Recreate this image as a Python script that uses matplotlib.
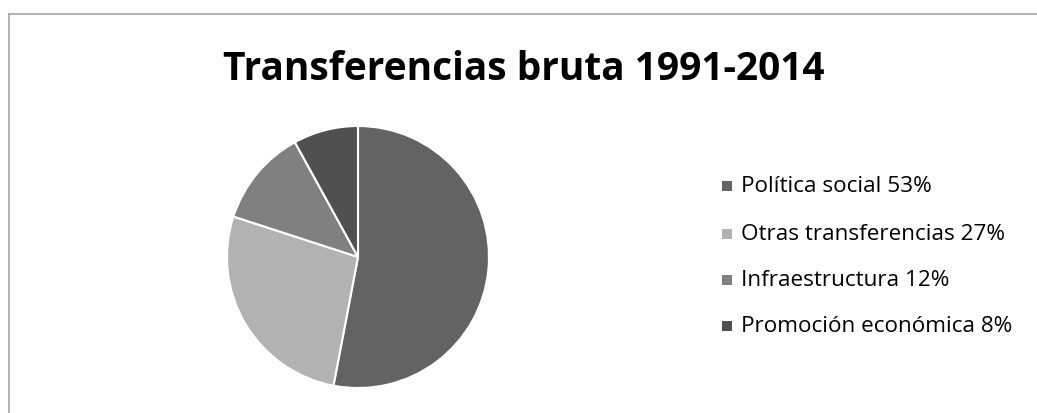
import matplotlib
matplotlib.use("Agg")
import matplotlib.pyplot as plt
from matplotlib.lines import Line2D
from matplotlib.patches import Rectangle

labels = ["Política social 53%", "Otras transferencias 27%", "Infraestructura 12%", "Promoción económica 8%"]
values = [53, 27, 12, 8]
colors = ["#636363", "#b2b2b2", "#808080", "#505050"]

W, H = 1037, 413
fig = plt.figure(figsize=(W / 100, H / 100), dpi=100)
fig.patch.set_facecolor("white")

# chart border (top and left)
fig.add_artist(Line2D([9 / W, 1], [1 - 14 / H, 1 - 14 / H], color="#a6a6a6", lw=1.2, transform=fig.transFigure))
fig.add_artist(Line2D([9 / W, 9 / W], [0, 1 - 14 / H], color="#a6a6a6", lw=1.2, transform=fig.transFigure))

fig.text(524 / W, 1 - 70 / H, "Transferencias bruta 1991-2014", ha="center", va="center",
         fontsize=28, fontweight="bold", family="Open Sans")

cx, cy, r = 358, 257, 131
ax = fig.add_axes([(cx - r) / W, 1 - (cy + r) / H, 2 * r / W, 2 * r / H])
ax.pie(values, colors=colors, startangle=90, counterclock=False,
       wedgeprops=dict(edgecolor="white", linewidth=1.5), radius=1)
ax.set_xlim(-1, 1)
ax.set_ylim(-1, 1)
ax.set_aspect("equal")
ax.axis("off")

ys = [186, 234, 280, 326]
sq = 10
for lab, col, y in zip(labels, colors, ys):
    fig.add_artist(Rectangle((722 / W, 1 - (y + sq / 2) / H), sq / W, sq / H, facecolor=col,
                             edgecolor="none", transform=fig.transFigure))
    fig.text(741 / W, 1 - y / H, lab, ha="left", va="center", fontsize=16.2, family="Open Sans", color="#000000")

fig.savefig("out.png", dpi=100)
